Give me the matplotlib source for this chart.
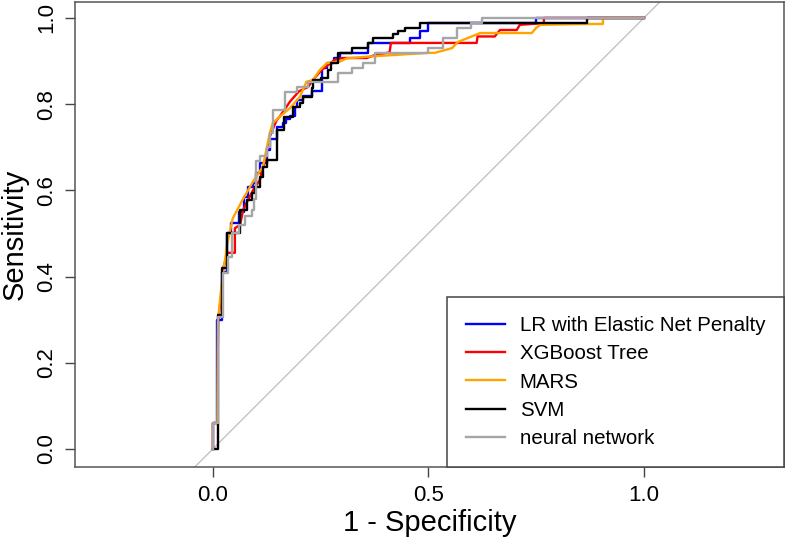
import matplotlib
matplotlib.use("Agg")
import matplotlib.pyplot as plt

plt.rcParams['font.family'] = ['Liberation Sans', 'DejaVu Sans']

# ROC curves: x = 1 - specificity, y = sensitivity
# step curves: each point is (x where the curve rises, new sensitivity level)
lr_fpr = [0, 0, 0.01, 0.02, 0.032, 0.043, 0.06, 0.072, 0.081, 0.093, 0.10, 0.109, 0.125, 0.132,
          0.148, 0.162, 0.17, 0.179, 0.19, 0.194, 0.21, 0.229, 0.252, 0.265, 0.28, 0.295, 0.36,
          0.36, 0.457, 0.48, 0.5, 0.75, 1.0]
lr_tpr = [0, 0.06, 0.30, 0.41, 0.50, 0.524, 0.55, 0.585, 0.608, 0.617, 0.64, 0.663, 0.694, 0.72,
          0.748, 0.756, 0.765, 0.772, 0.794, 0.81, 0.82, 0.83, 0.883, 0.895, 0.907, 0.918, 0.922,
          0.942, 0.954, 0.97, 0.988, 1.0, 1.0]

svm_fpr = [0, 0.012, 0.02, 0.032, 0.063, 0.078, 0.09, 0.097, 0.109, 0.116, 0.125, 0.148, 0.165,
           0.186, 0.202, 0.209, 0.229, 0.232, 0.25, 0.267, 0.275, 0.29, 0.322, 0.36, 0.371, 0.418,
           0.43, 0.445, 0.48, 0.868, 1.0]
svm_tpr = [0, 0.31, 0.42, 0.50, 0.554, 0.578, 0.594, 0.608, 0.632, 0.655, 0.67, 0.74, 0.771,
           0.794, 0.802, 0.817, 0.837, 0.856, 0.86, 0.879, 0.895, 0.918, 0.93, 0.942, 0.954, 0.963,
           0.97, 0.977, 0.988, 1.0, 1.0]

nn_fpr = [0, 0, 0.012, 0.024, 0.035, 0.045, 0.06, 0.075, 0.09, 0.095, 0.101, 0.11, 0.125, 0.132,
          0.139, 0.167, 0.194, 0.221, 0.29, 0.322, 0.349, 0.376, 0.5, 0.535, 0.567, 0.6, 0.625, 1.0]
nn_tpr = [0, 0.06, 0.306, 0.408, 0.446, 0.50, 0.52, 0.54, 0.554, 0.58, 0.667, 0.68, 0.70, 0.733,
          0.787, 0.829, 0.84, 0.852, 0.872, 0.883, 0.896, 0.919, 0.93, 0.953, 0.976, 0.988, 1.0, 1.0]

# smoother curves: points joined directly
xgb_fpr = [0, 0, 0.01, 0.012, 0.02, 0.024, 0.03, 0.032, 0.051, 0.051, 0.063, 0.07, 0.08, 0.093,
           0.109, 0.121, 0.132, 0.148, 0.155, 0.179, 0.2, 0.221, 0.232, 0.252, 0.283, 0.3, 0.357,
           0.376, 0.41, 0.413, 0.612, 0.614, 0.654, 0.666, 0.705, 0.712, 0.768, 0.768, 1.0]
xgb_tpr = [0, 0.06, 0.06, 0.30, 0.36, 0.42, 0.44, 0.455, 0.455, 0.512, 0.52, 0.554, 0.575, 0.60,
           0.624, 0.67, 0.725, 0.763, 0.771, 0.806, 0.83, 0.84, 0.856, 0.879, 0.903, 0.907, 0.907,
           0.914, 0.92, 0.942, 0.942, 0.957, 0.957, 0.972, 0.972, 0.984, 0.988, 1.0, 1.0]

mars_fpr = [0, 0, 0.01, 0.012, 0.02, 0.025, 0.03, 0.032, 0.046, 0.07, 0.093, 0.116, 0.132, 0.139,
            0.155, 0.179, 0.202, 0.217, 0.232, 0.248, 0.264, 0.295, 0.31, 0.357, 0.5, 0.515, 0.555,
            0.568, 0.62, 0.74, 0.75, 0.76, 0.87, 0.905, 0.905, 1.0]
mars_tpr = [0, 0.06, 0.06, 0.30, 0.38, 0.42, 0.45, 0.47, 0.535, 0.58, 0.62, 0.655, 0.733, 0.756,
            0.771, 0.791, 0.817, 0.852, 0.856, 0.879, 0.895, 0.899, 0.906, 0.91, 0.919, 0.919, 0.93,
            0.944, 0.965, 0.965, 0.977, 0.984, 0.986, 0.986, 1.0, 1.0]

labels = ["LR with Elastic Net Penalty", "XGBoost Tree", "MARS", "SVM", "neural network"]
colors = ["#0000FF", "#FF0000", "#FFA500", "#000000", "#A6A6A6"]

fig = plt.figure(figsize=(7.86, 5.38), dpi=100)
ax = fig.add_axes([0.0954, 0.132, 0.902, 0.8643])

ax.axline((0, 0), (1, 1), color="#BDBDBD", lw=0.9, zorder=1)

lw = 1.7
ax.plot(lr_fpr, lr_tpr, drawstyle="steps-post", color=colors[0], lw=lw, label=labels[0])
ax.plot(xgb_fpr, xgb_tpr, color=colors[1], lw=lw, label=labels[1])
ax.plot(mars_fpr, mars_tpr, color=colors[2], lw=lw, label=labels[2])
ax.plot(svm_fpr, svm_tpr, drawstyle="steps-post", color=colors[3], lw=lw, label=labels[3])
ax.plot(nn_fpr, nn_tpr, drawstyle="steps-post", color=colors[4], lw=lw, label=labels[4])

ax.set_xlim(-0.320, 1.325)
ax.set_ylim(-0.042, 1.037)
ax.set_xticks([0.0, 0.5, 1.0])
ax.set_xticklabels(["0.0", "0.5", "1.0"])
ax.set_yticks([0.0, 0.2, 0.4, 0.6, 0.8, 1.0])
ax.set_yticklabels(["0.0", "0.2", "0.4", "0.6", "0.8", "1.0"], rotation=90, va="center")
ax.tick_params(length=7, width=1, color="#444444", labelsize=16, pad=6)

for s in ax.spines.values():
    s.set_color("#555555")
    s.set_linewidth(1.1)

ax.set_xlabel("1 - Specificity", fontsize=21, labelpad=2)
ax.set_ylabel("Sensitivity", fontsize=21, labelpad=5)

leg = ax.legend(loc="lower right", bbox_to_anchor=(1.0, 0.0), borderaxespad=0,
                fontsize=14.8, frameon=True, fancybox=False, handlelength=1.9,
                handletextpad=0.7, borderpad=0.92, labelspacing=0.45)
leg.get_frame().set_edgecolor("#444444")
leg.get_frame().set_linewidth(1.1)
leg.get_frame().set_alpha(1)

fig.savefig("out.png", dpi=100)
